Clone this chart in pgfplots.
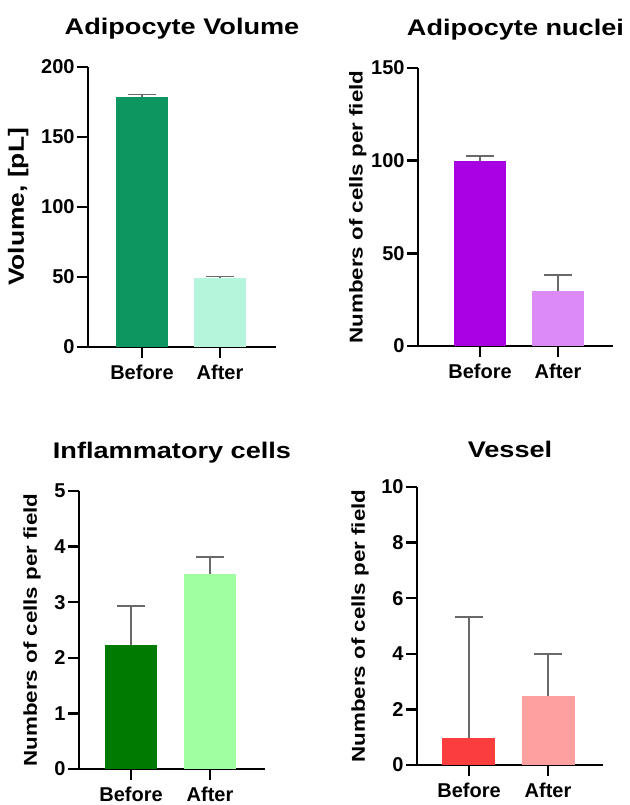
\documentclass[border=0pt]{standalone}
\usepackage{fontspec}
\setmainfont{Liberation Sans}
\newfontfamily\widefont{Liberation Sans}[FakeStretch=1.2]
\usepackage{pgfplots}
\pgfplotsset{compat=1.18}
\definecolor{c1a}{RGB}{14,150,96}
\definecolor{c1b}{RGB}{180,245,220}
\definecolor{c2a}{RGB}{168,0,226}
\definecolor{c2b}{RGB}{220,138,245}
\definecolor{c3a}{RGB}{0,122,0}
\definecolor{c3b}{RGB}{160,255,160}
\definecolor{c4a}{RGB}{250,62,62}
\definecolor{c4b}{RGB}{255,160,160}
\definecolor{errgray}{RGB}{105,105,105}
\pgfplotsset{
  panel/.style={scale only axis, anchor=south west,
    axis x line*=bottom, axis y line*=left,
    axis line style={line width=1.2pt, black},
    major tick style={line width=1.2pt, black},
    tick align=outside, major tick length=5.5pt,
    xtick={0,1}, xticklabels={Before,After}, ymin=0,
    ticklabel style={font=\fontsize{10}{12}\selectfont\bfseries},
    /pgf/number format/assume math mode=true,
    yticklabel style={inner xsep=1pt},
    title style={at={(0.5,1)}, anchor=center, yshift=13pt,
      font=\widefont\fontsize{11.3}{13}\selectfont\bfseries},
    ylabel style={anchor=center, font=\widefont\fontsize{9.3}{11}\selectfont\bfseries},
    clip=false},
  errb/.style={error bars/.cd, y dir=plus, y explicit,
    error bar style={draw=errgray, line width=0.75pt},
    error mark options={rotate=90, draw=errgray, line width=0.75pt, mark size=7pt}}
}
\begin{document}
\begin{tikzpicture}
\useasboundingbox (0,0) rectangle (314.5pt,402.5pt);
% Panel 1
\begin{axis}[panel, at={(44pt,229pt)}, width=94pt, height=140pt,
  xmin=-0.692, xmax=1.718, ymax=200, ytick={0,50,100,150,200},
  title={Adipocyte Volume}, ylabel={Volume, [pL]},
  ylabel style={at={(axis description cs:-0.372,0.5)}, font=\widefont\fontsize{11}{13}\selectfont\bfseries}]
\addplot[ybar, bar width=26pt, bar shift=0pt, fill=c1a, draw=none, errb] coordinates {(0,178.8) +- (0,1.7)};
\addplot[ybar, bar width=26pt, bar shift=0pt, fill=c1b, draw=none, errb] coordinates {(1,49.5) +- (0,0.7)};
\end{axis}
% Panel 2
\begin{axis}[panel, at={(209pt,229.5pt)}, width=97.5pt, height=139pt,
  xmin=-0.795, xmax=1.705, ymax=150, ytick={0,50,100,150},
  title={Adipocyte nuclei}, ylabel={Numbers of cells per field},
  ylabel style={at={(axis description cs:-0.308,0.5)}}]
\addplot[ybar, bar width=26pt, bar shift=0pt, fill=c2a, draw=none, errb] coordinates {(0,100) +- (0,2.6)};
\addplot[ybar, bar width=26pt, bar shift=0pt, fill=c2b, draw=none, errb] coordinates {(1,29.7) +- (0,8.6)};
\end{axis}
% Panel 3
\begin{axis}[panel, at={(39.5pt,18pt)}, width=93pt, height=139pt,
  xmin=-0.658, xmax=1.696, ymax=5, ytick={0,1,2,3,4,5},
  title={Inflammatory cells}, ylabel={Numbers of cells per field},
  ylabel style={at={(axis description cs:-0.253,0.5)}}]
\addplot[ybar, bar width=26pt, bar shift=0pt, fill=c3a, draw=none, errb] coordinates {(0,2.23) +- (0,0.70)};
\addplot[ybar, bar width=26pt, bar shift=0pt, fill=c3b, draw=none, errb] coordinates {(1,3.50) +- (0,0.31)};
\end{axis}
% Panel 4
\begin{axis}[panel, at={(208.5pt,20pt)}, width=93pt, height=139pt,
  xmin=-0.658, xmax=1.696, ymax=10, ytick={0,2,4,6,8,10},
  title={Vessel}, ylabel={Numbers of cells per field},
  ylabel style={at={(axis description cs:-0.306,0.5)}}]
\addplot[ybar, bar width=26.5pt, bar shift=0pt, fill=c4a, draw=none, errb] coordinates {(0,0.98) +- (0,4.35)};
\addplot[ybar, bar width=26.5pt, bar shift=0pt, fill=c4b, draw=none, errb] coordinates {(1,2.48) +- (0,1.52)};
\end{axis}
\end{tikzpicture}
\end{document}
